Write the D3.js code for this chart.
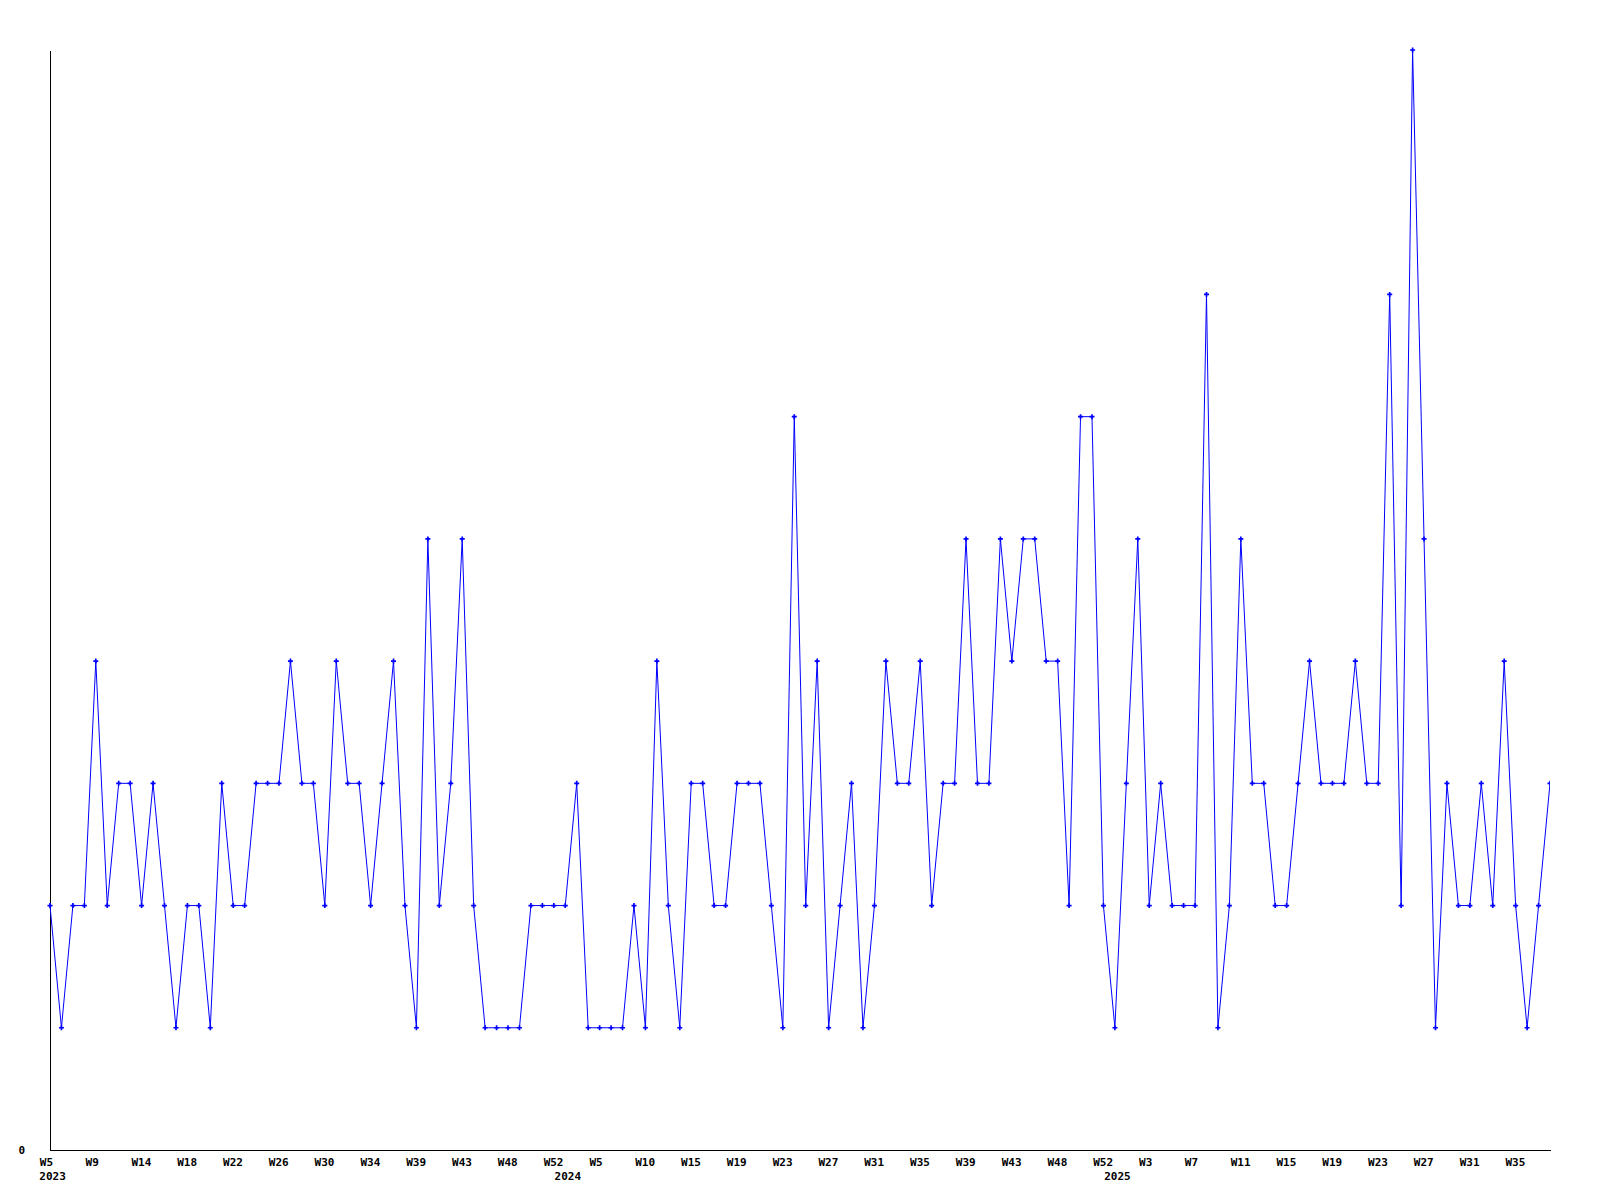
<!DOCTYPE html>
<html>
<head>
<meta charset="utf-8">
<script src="https://cdn.jsdelivr.net/npm/d3@7"></script>
<style>
  body { margin: 0; background: #fff; }
  text { font-family: "DejaVu Sans Mono", monospace; font-weight: bold; font-size: 11px; fill: #000; }
</style>
</head>
<body>
<script>
// Weekly counts, one per data row (2023 W5 onwards)
const values = [
    2, 1, 2, 2, 4, 2, 3, 3, 2, 3,
    2, 1, 2, 2, 1, 3, 2, 2, 3, 3,
    3, 4, 3, 3, 2, 4, 3, 3, 2, 3,
    4, 2, 1, 5, 2, 3, 5, 2, 1, 1,
    1, 1, 2, 2, 2, 2, 3, 1, 1, 1,
    1, 2, 1, 4, 2, 1, 3, 3, 2, 2,
    3, 3, 3, 2, 1, 6, 2, 4, 1, 2,
    3, 1, 2, 4, 3, 3, 4, 2, 3, 3,
    5, 3, 3, 5, 4, 5, 5, 4, 4, 2,
    6, 6, 2, 1, 3, 5, 2, 3, 2, 2,
    2, 7, 1, 2, 5, 3, 3, 2, 2, 3,
    4, 3, 3, 3, 4, 3, 3, 7, 2, 9,
    5, 1, 3, 2, 2, 3, 2, 4, 2, 1,
    2, 3
];

// Every 4th row gets a week label
const weekLabels = [
    "W5", "W9", "W14", "W18", "W22", "W26", "W30", "W34", "W39", "W43", "W48", "W52",
    "W5", "W10", "W15", "W19", "W23", "W27", "W31", "W35", "W39", "W43", "W48", "W52",
    "W3", "W7", "W11", "W15", "W19", "W23", "W27", "W31", "W35"
];
const labelEvery = 4;

// Year labels and the row they start at
const yearLabels = ["2023", "2024", "2025"];
const yearRows = [0, 45, 93];

const width = 1600, height = 1200;
const margin = { top: 50, right: 50, bottom: 50, left: 50 };
const labelShift = -10.7;

const svg = d3.select("body").append("svg")
    .attr("width", width)
    .attr("height", height);

// Scales
const x = d3.scaleLinear()
    .domain([0, values.length - 1])
    .range([margin.left, width - margin.right]);

const y = d3.scaleLinear()
    .domain([0, 9])
    .range([height - margin.bottom, margin.top]);

// Y axis: only the zero label
const yAxis = svg.append("g")
    .attr("transform", `translate(${margin.left},0)`)
    .call(d3.axisLeft(y).tickValues([0]).tickSize(0).tickPadding(25).tickFormat(d3.format("d")));
yAxis.select(".domain").attr("stroke", "#000").attr("shape-rendering", "crispEdges");
yAxis.selectAll("text")
    .attr("dy", "0.35em")
    .style("font-family", "DejaVu Sans Mono")
    .style("font-size", "11px")
    .style("font-weight", "bold");

// X axis
const tickRows = weekLabels.map((d, i) => i * labelEvery);
const xAxis = svg.append("g")
    .attr("transform", `translate(0,${height - margin.bottom})`)
    .call(d3.axisBottom(x)
        .tickValues(tickRows)
        .tickSize(0)
        .tickSizeOuter(0)
        .tickFormat((d, i) => weekLabels[i]));
xAxis.select(".domain").attr("stroke", "#000").attr("shape-rendering", "crispEdges");
xAxis.selectAll("text")
    .attr("text-anchor", "start")
    .attr("x", labelShift)
    .attr("y", 16)
    .attr("dy", 0)
    .style("font-family", "DejaVu Sans Mono")
    .style("font-size", "11px")
    .style("font-weight", "bold");

// Year labels under the weeks
svg.append("g")
    .selectAll("text")
    .data(yearLabels)
    .join("text")
    .attr("x", (d, i) => x(yearRows[i]) + labelShift)
    .attr("y", height - margin.bottom + 30)
    .attr("text-anchor", "start")
    .text(d => d);

// Clip to the plot area
svg.append("clipPath")
    .attr("id", "plot")
    .append("rect")
    .attr("x", margin.left - 4)
    .attr("y", margin.top - 4)
    .attr("width", width - margin.left - margin.right + 4)
    .attr("height", height - margin.top - margin.bottom + 8);

const line = d3.line()
    .x((d, i) => x(i))
    .y(d => y(d));

const plot = svg.append("g").attr("clip-path", "url(#plot)");

plot.append("path")
    .datum(values)
    .attr("fill", "none")
    .attr("stroke", "#0000ff")
    .attr("stroke-width", 1)
    .attr("d", line);

// Cross markers at every point
plot.selectAll(".mark")
    .data(values)
    .join("path")
    .attr("class", "mark")
    .attr("transform", (d, i) => `translate(${x(i)},${y(d)})`)
    .attr("d", d3.symbol(d3.symbolCross, 14))
    .attr("fill", "#0000ff");
</script>
</body>
</html>
